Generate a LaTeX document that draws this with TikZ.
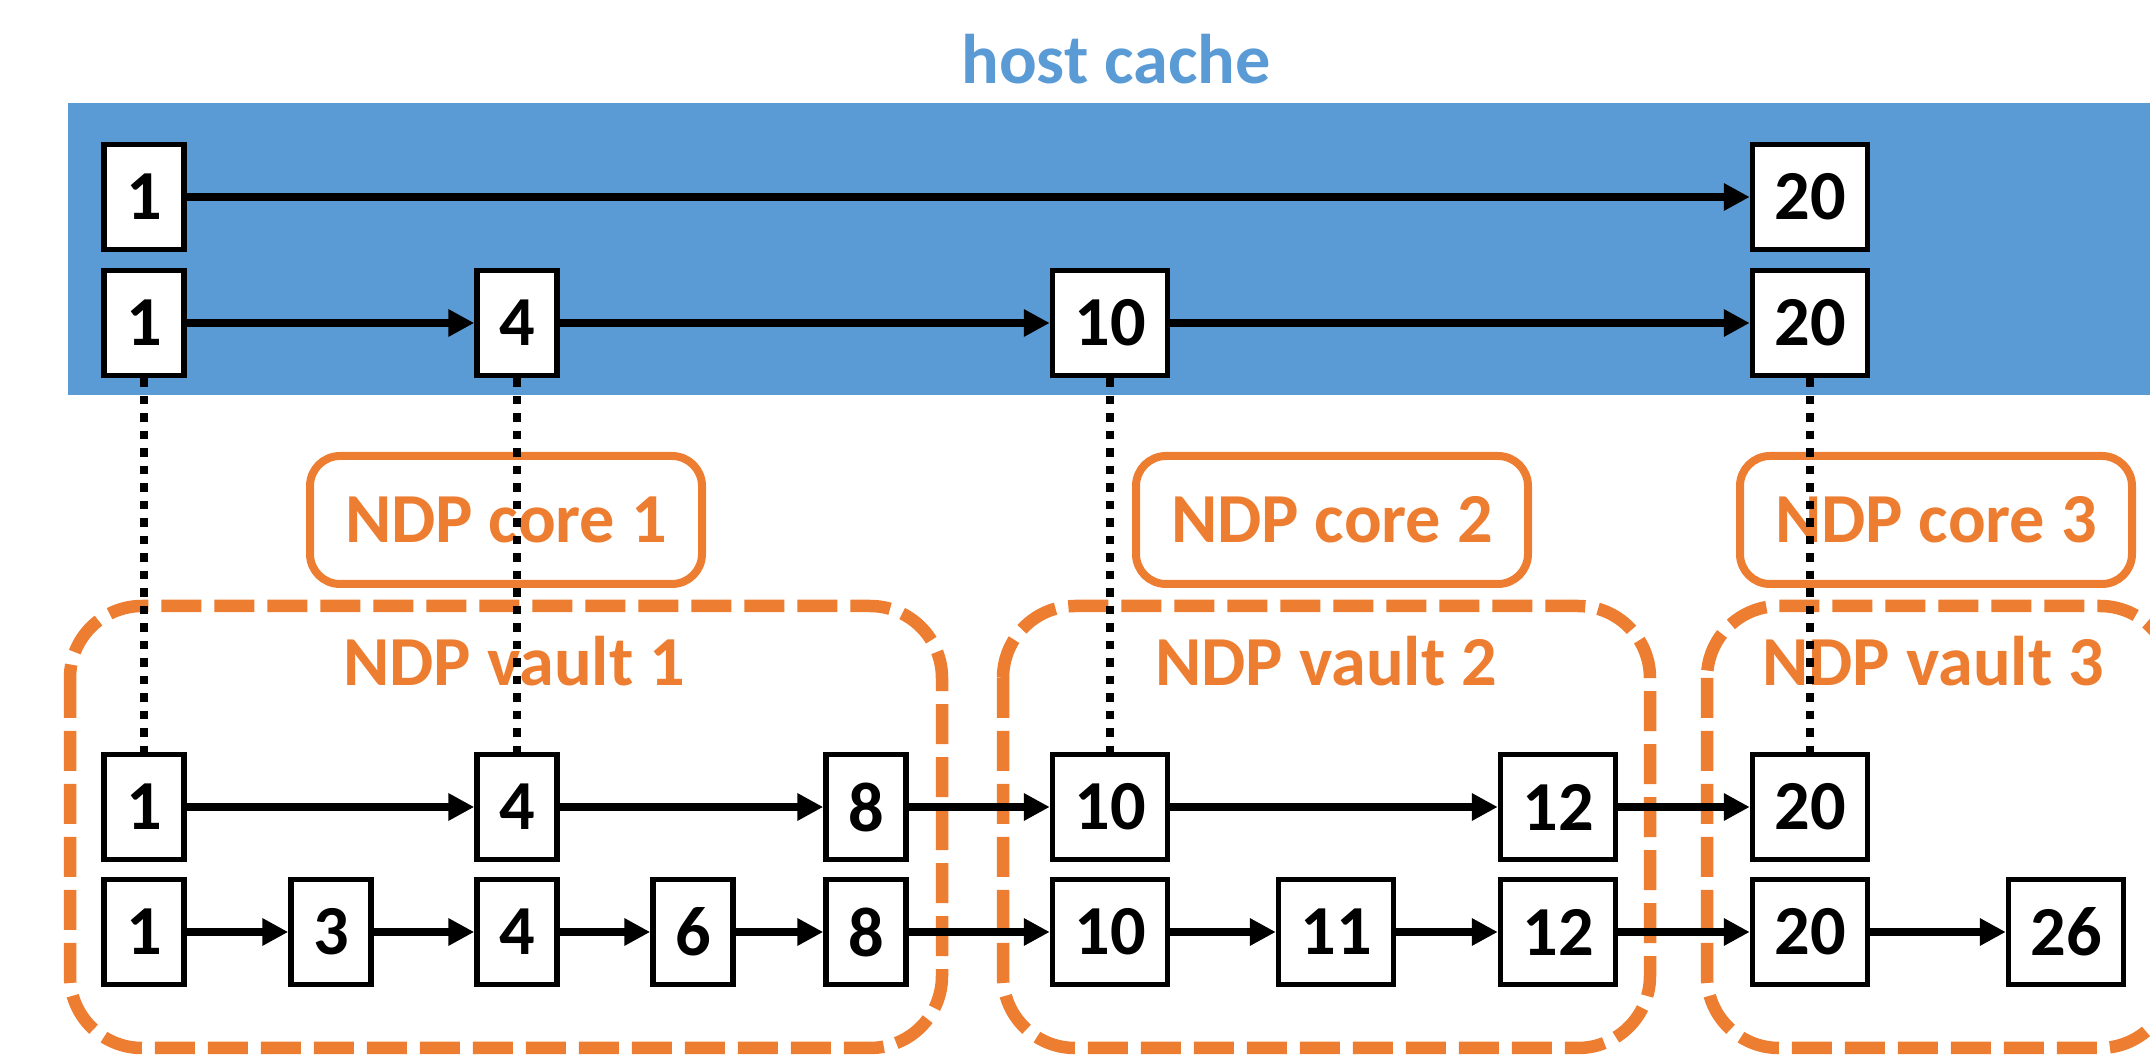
\documentclass[tikz,border=0pt]{standalone}
\usepackage{fontspec}
\setmainfont{Carlito}
\usetikzlibrary{arrows.meta}
\definecolor{hostblue}{HTML}{5B9BD5}
\definecolor{ndporange}{HTML}{ED7D31}

\begin{document}
\begin{tikzpicture}[%
    x=0.1mm, y=-0.1mm,          % one unit per pixel, y counts downwards
    >={Triangle[length=2.6mm,width=2.6mm]}, % Solid arrow heads
    ]
% -------------------------------------------------
% Box and line styles
\tikzset{
  cell/.style={draw, fill=white, line width=0.55mm, inner sep=0pt,
    minimum width=8mm, minimum height=10.5mm,
    font=\fontsize{20}{24}\selectfont\bfseries},
  wide/.style={cell, minimum width=11.5mm},
  norm/.style={->, draw, line width=0.8mm},
  link/.style={draw, line width=0.85mm, dash pattern=on 0.85mm off 0.9mm},
  core/.style={draw=ndporange, line width=0.8mm, rounded corners=3mm,
    inner sep=0pt, minimum width=39.2mm, minimum height=12.8mm,
    text=ndporange, font=\fontsize{20}{24}\selectfont\bfseries},
  vault/.style={draw=ndporange, line width=1.25mm, rounded corners=7.2mm,
    dash pattern=on 4mm off 1.3mm},
  lbl/.style={anchor=base, inner sep=0pt,
    font=\fontsize{20}{24}\selectfont\bfseries}
}
\clip (0,0) rectangle (2150,1056);
% -------------------------------------------------
% Host side
\fill [hostblue] (68,103) rectangle (2150,395);
\node [lbl, text=hostblue] (host) at (1116,84) {host cache};

% -------------------------------------------------
% NDP side: vaults and cores
\draw [vault] (70,606) rectangle (942,1048);
\draw [vault] (1003,606) rectangle (1650,1048);
\draw [vault] (1707,606) rectangle (2172,1048);
\node [core] (core1) at (506,520) {NDP core 1};
\node [core] (core2) at (1332,520) {NDP core 2};
\node [core] (core3) at (1936,520) {NDP core 3};
\node [lbl, text=ndporange] (vault1) at (514,686) {NDP vault 1};
\node [lbl, text=ndporange] (vault2) at (1326,686) {NDP vault 2};
\node [lbl, text=ndporange] (vault3) at (1933,686) {NDP vault 3};

% -------------------------------------------------
% Skip list levels, top to bottom
\node [cell] (a1) at (144,197) {1};
\node [wide] (a20) at (1810,197) {20};

\node [cell] (b1) at (144,323) {1};
\node [cell] (b4) at (517,323) {4};
\node [wide] (b10) at (1110,323) {10};
\node [wide] (b20) at (1810,323) {20};

\node [cell] (c1) at (144,807) {1};
\node [cell] (c4) at (517,807) {4};
\node [cell] (c8) at (866,807) {8};
\node [wide] (c10) at (1110,807) {10};
\node [wide] (c12) at (1558,807) {12};
\node [wide] (c20) at (1810,807) {20};

\node [cell] (d1) at (144,932) {1};
\node [cell] (d3) at (331,932) {3};
\node [cell] (d4) at (517,932) {4};
\node [cell] (d6) at (693,932) {6};
\node [cell] (d8) at (866,932) {8};
\node [wide] (d10) at (1110,932) {10};
\node [wide] (d11) at (1336,932) {11};
\node [wide] (d12) at (1558,932) {12};
\node [wide] (d20) at (1810,932) {20};
\node [wide] (d26) at (2066,932) {26};

% -------------------------------------------------
% Forward pointers
\draw [norm] (a1) -- (a20);
\draw [norm] (b1) -- (b4);
\draw [norm] (b4) -- (b10);
\draw [norm] (b10) -- (b20);
\draw [norm] (c1) -- (c4);
\draw [norm] (c4) -- (c8);
\draw [norm] (c8) -- (c10);
\draw [norm] (c10) -- (c12);
\draw [norm] (c12) -- (c20);
\draw [norm] (d1) -- (d3);
\draw [norm] (d3) -- (d4);
\draw [norm] (d4) -- (d6);
\draw [norm] (d6) -- (d8);
\draw [norm] (d8) -- (d10);
\draw [norm] (d10) -- (d11);
\draw [norm] (d11) -- (d12);
\draw [norm] (d12) -- (d20);
\draw [norm] (d20) -- (d26);

% Cached copies linked to their home nodes
\draw [link] (b1) -- (c1);
\draw [link] (b4) -- (c4);
\draw [link] (b10) -- (c10);
\draw [link] (b20) -- (c20);
% -------------------------------------------------
\end{tikzpicture}
\end{document}
